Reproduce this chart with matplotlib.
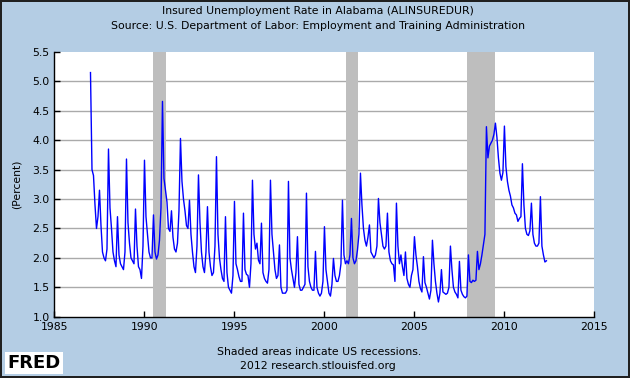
import numpy as np
import matplotlib
matplotlib.use('Agg')
import matplotlib.pyplot as plt


# Valeurs mensuelles (%), janvier -> décembre
r1987 = [5.15, 3.5, 3.4, 2.9, 2.5, 2.7, 3.15, 2.55, 2.1, 2.0, 1.95, 2.15]
r1988 = [3.85, 2.85, 2.5, 2.1, 1.95, 1.85, 2.7, 2.05, 1.9, 1.85, 1.8, 2.1]
r1989 = [3.68, 2.6, 2.25, 2.0, 1.95, 1.9, 2.83, 2.2, 1.85, 1.8, 1.65, 2.2]
r1990 = [3.66, 2.7, 2.4, 2.1, 2.0, 2.0, 2.73, 2.1, 1.98, 2.05, 2.3, 2.85]
r1991 = [4.66, 3.35, 3.15, 2.95, 2.5, 2.45, 2.8, 2.35, 2.15, 2.1, 2.25, 2.8]
r1992 = [4.03, 3.3, 3.0, 2.8, 2.55, 2.5, 2.98, 2.4, 2.1, 1.85, 1.75, 2.2]
r1993 = [3.41, 2.6, 2.1, 1.85, 1.75, 2.1, 2.87, 2.1, 1.85, 1.7, 1.75, 2.2]
r1994 = [3.72, 2.4, 2.0, 1.8, 1.65, 1.6, 2.7, 1.75, 1.5, 1.45, 1.4, 1.7]
r1995 = [2.96, 1.9, 1.8, 1.68, 1.6, 1.6, 2.76, 1.8, 1.72, 1.7, 1.5, 1.9]
r1996 = [3.32, 2.4, 2.15, 2.25, 1.96, 1.9, 2.59, 1.75, 1.65, 1.6, 1.57, 1.8]
r1997 = [3.32, 2.4, 2.1, 1.8, 1.65, 1.7, 2.22, 1.5, 1.4, 1.4, 1.4, 1.45]
r1998 = [3.3, 2.0, 1.8, 1.65, 1.5, 1.75, 2.36, 1.55, 1.45, 1.45, 1.5, 1.55]
r1999 = [3.1, 1.85, 1.6, 1.5, 1.45, 1.45, 2.11, 1.5, 1.4, 1.35, 1.4, 1.6]
r2000 = [2.53, 1.8, 1.6, 1.4, 1.35, 1.55, 1.99, 1.7, 1.6, 1.6, 1.7, 1.9]
r2001 = [2.98, 2.05, 1.9, 1.95, 1.9, 2.05, 2.67, 2.0, 1.9, 1.95, 2.13, 2.4]
r2002 = [3.44, 2.9, 2.5, 2.3, 2.2, 2.35, 2.56, 2.1, 2.05, 2.0, 2.05, 2.2]
r2003 = [3.01, 2.6, 2.4, 2.2, 2.15, 2.2, 2.76, 2.1, 1.95, 1.9, 1.88, 1.6]
r2004 = [2.93, 2.2, 1.9, 2.05, 1.85, 1.7, 2.1, 1.65, 1.55, 1.5, 1.7, 1.8]
r2005 = [2.36, 2.05, 1.85, 1.6, 1.48, 1.42, 2.02, 1.58, 1.5, 1.4, 1.3, 1.45]
r2006 = [2.3, 1.9, 1.6, 1.4, 1.25, 1.4, 1.8, 1.42, 1.4, 1.38, 1.4, 1.5]
r2007 = [2.2, 1.8, 1.5, 1.42, 1.38, 1.32, 1.94, 1.45, 1.38, 1.34, 1.32, 1.35]
r2008 = [2.05, 1.6, 1.58, 1.62, 1.6, 1.62, 2.11, 1.8, 1.9, 2.05, 2.22, 2.4]
r2009 = [4.23, 3.7, 3.9, 3.95, 4.0, 4.1, 4.29, 4.05, 3.7, 3.44, 3.32, 3.45]
r2010 = [4.24, 3.55, 3.3, 3.15, 3.05, 2.9, 2.85, 2.76, 2.73, 2.62, 2.67, 2.7]
r2011 = [3.6, 2.9, 2.5, 2.4, 2.38, 2.46, 2.93, 2.4, 2.25, 2.2, 2.2, 2.25]
r2012 = [3.04, 2.2, 2.05, 1.93, 1.95]

annees = list(range(1987, 2013))
series = [r1987, r1988, r1989, r1990, r1991, r1992, r1993, r1994, r1995,
          r1996, r1997, r1998, r1999, r2000, r2001, r2002, r2003, r2004,
          r2005, r2006, r2007, r2008, r2009, r2010, r2011, r2012]

# Récessions US (début, fin) en années décimales
recessions = [(1990.5, 1991.17), (2001.17, 2001.87), (2007.92, 2009.5)]

yticks = [1.0, 1.5, 2.0, 2.5, 3.0, 3.5, 4.0, 4.5, 5.0, 5.5]
xticks = [1985, 1990, 1995, 2000, 2005, 2010, 2015]


x = []
y = []
for an, vals in zip(annees, series):
    for m, v in enumerate(vals):
        x.append(an + m / 12)
        y.append(v)

fond = '#B4CDE4'
fig = plt.figure(figsize=(6.3, 3.78), dpi=100, facecolor=fond,
                 edgecolor='#202020', linewidth=1.5)
ax = fig.add_axes([0.0865, 0.1622, 0.857, 0.7003])
ax.set_facecolor('white')

for d, f in recessions:
    ax.axvspan(d, f, color='#BEBEBE', lw=0, zorder=1)

ax.set_yticks(yticks)
ax.set_yticklabels(['%.1f' % t for t in yticks])
ax.set_xticks(xticks)
ax.set_xlim(1985, 2015)
ax.set_ylim(1.0, 5.5)
ax.yaxis.grid(True, color='#AAAAAA', lw=1.0, zorder=2)
ax.set_axisbelow(True)
ax.get_ygridlines()[-1].set_visible(False)
ax.get_ygridlines()[0].set_visible(False)

ax.plot(x, y, color='#0000FF', lw=1.0, zorder=3)

for s in ['top', 'right']:
    ax.spines[s].set_visible(False)
for s in ['left', 'bottom']:
    ax.spines[s].set_color('black')
    ax.spines[s].set_linewidth(1.0)
ax.tick_params(axis='both', direction='in', length=4, width=1, labelsize=7.8,
               colors='black')
ax.tick_params(axis='x', pad=4)
ax.set_ylabel('(Percent)', fontsize=7.8, labelpad=8)

fig.text(0.505, 0.970, 'Insured Unemployment Rate in Alabama (ALINSUREDUR)',
         ha='center', va='center', fontsize=7.8)
fig.text(0.505, 0.932, 'Source: U.S. Department of Labor: Employment and Training Administration',
         ha='center', va='center', fontsize=7.8)
fig.text(0.507, 0.069, 'Shaded areas indicate US recessions.',
         ha='center', va='center', fontsize=7.8)
fig.text(0.505, 0.032, '2012 research.stlouisfed.org',
         ha='center', va='center', fontsize=7.8)
fig.text(0.012, 0.04, 'FRED', ha='left', va='center', fontsize=13,
         fontweight='bold', color='black',
         bbox=dict(facecolor='white', edgecolor='none', pad=1.5))

fig.savefig('out.png', dpi=100, facecolor=fond, edgecolor=fig.get_edgecolor())
